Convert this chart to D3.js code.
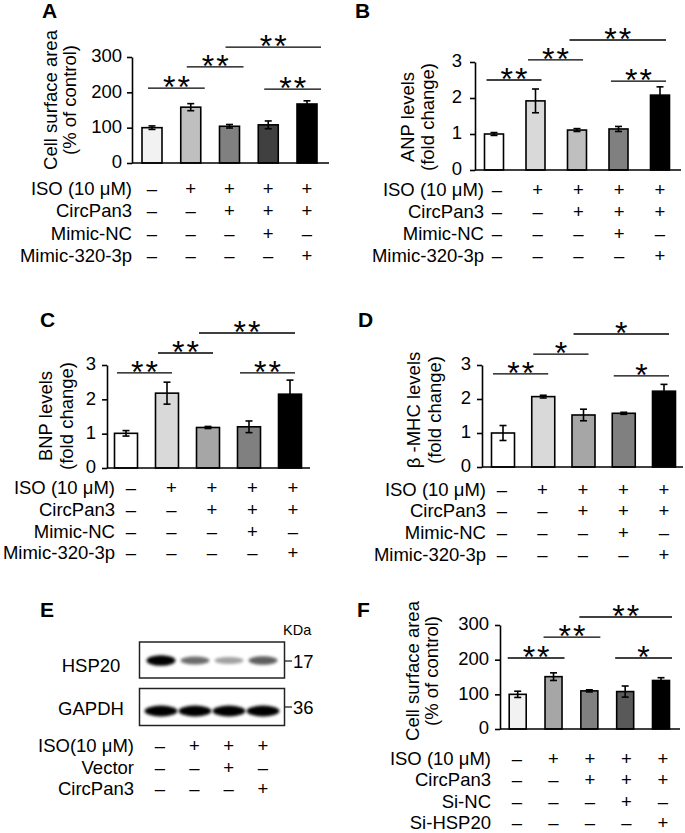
<!DOCTYPE html>
<html><head><meta charset="utf-8">
<script src="https://cdn.jsdelivr.net/npm/d3@7"></script>
<style>
body{margin:0;background:#fff}
svg{display:block}
text{font-family:"Liberation Sans",Arial,sans-serif;fill:#000}
</style>
</head><body>
<svg id="c" width="685" height="833"></svg>
<script>
// ================= DATA =================
const groups = ["G1","G2","G3","G4","G5"];
const aValues = [100,158,104,108,167], aErrors = [5,10,5,11,9];
const bValues = [1.0,1.92,1.11,1.14,2.08], bErrors = [0.04,0.33,0.04,0.07,0.23];
const cValues = [1.01,2.18,1.18,1.2,2.15], cErrors = [0.08,0.32,0.03,0.17,0.41];
const dValues = [1.0,2.07,1.53,1.58,2.23], dErrors = [0.22,0.04,0.17,0.03,0.2];
const fValues = [100,151,110,108,140], fErrors = [9,11,3,16,8];
const ticks300 = [0,100,200,300];
const ticks3 = [0,1,2,3];
const titleA = ["Cell surface area","(% of control)"];
const titleB = ["ANP levels","(fold change)"];
const titleC = ["BNP levels","(fold change)"];
const titleD = ["β -MHC levels","(fold change)"];
const titleF = ["Cell surface area","(% of control)"];
const rowLabelsMimic = ["ISO (10 μM)","CircPan3","Mimic-NC","Mimic-320-3p"];
const rowLabelsF = ["ISO (10 μM)","CircPan3","Si-NC","Si-HSP20"];
const rowSigns5 = [["-","+","+","+","+"],["-","-","+","+","+"],["-","-","-","+","-"],["-","-","-","-","+"]];
const rowLabelsE = ["ISO(10 μM)","Vector","CircPan3"];
const rowSignsE = [["-","+","+","+"],["-","-","+","-"],["-","-","-","+"]];
// significance: [from group, to group, height (data units), label]
const sigA = [[0,1,212,"**"],[1,2,272,"**"],[2,4,328,"**"],[3,4,209,"**"]];
const sigB = [[0,1,2.5,"**"],[1,2,3.06,"**"],[2,4,3.61,"**"],[3,4,2.47,"**"]];
const sigC = [[0,1,2.77,"**"],[1,2,3.35,"**"],[2,4,3.93,"**"],[3,4,2.77,"**"]];
const sigD = [[0,1,2.74,"**"],[1,2,3.32,"*"],[2,4,3.91,"*"],[3,4,2.68,"*"]];
const sigF = [[0,1,205,"**"],[1,2,265,"**"],[2,4,323,"**"],[3,4,205,"*"]];
// western blot
const blotLanes = ["L1","L2","L3","L4"];
const hsp20Intensity = [1.0,0.55,0.35,0.6];
const gapdhIntensity = [1.0,1.0,1.0,1.0];
const blotProteins = ["HSP20","GAPDH"];
const blotMarkers = ["17","36"];

// ================= DRAW =================
const svg = d3.select("#c");
const FS = 18.5;

const defs = svg.append("defs");
defs.append("filter").attr("id","blur").attr("x","-30%").attr("y","-80%").attr("width","160%").attr("height","260%")
  .append("feGaussianBlur").attr("stdDeviation",1.4);

function letter(t,x,y){
  svg.append("text").attr("x",x).attr("y",y).attr("font-size",21).attr("font-weight","bold").text(t);
}

function rows(o){
  const g = svg.append("g");
  const xs = d3.scalePoint().domain(d3.range(o.signs[0].length)).range(o.symRange);
  o.labels.forEach((lab,r)=>{
    const yb = o.base + r*o.step;
    g.append("text").attr("x",o.labelX).attr("y",yb).attr("text-anchor","end").attr("font-size",FS).text(lab);
    g.selectAll(null).data(o.signs[r]).join("text")
      .attr("x",(d,i)=>xs(i)).attr("y",yb).attr("text-anchor","middle").attr("font-size",FS)
      .text(d=> d==="-" ? "–" : "+");
  });
}

function barPanel(o){
  const g = svg.append("g");
  const y = d3.scaleLinear().domain([0,o.yMax]).range([o.y0,o.yTop]);
  const x = d3.scalePoint().domain(d3.range(o.values.length)).range([o.barL,o.barR]);
  const sw = 1.6;
  // axes
  const ax = g.append("g").attr("transform",`translate(${o.axisX},0)`)
    .call(d3.axisLeft(y).tickValues(o.ticks).tickFormat(d3.format("d")).tickSize(5).tickSizeOuter(0).tickPadding(o.tickPad||5));
  ax.select(".domain").attr("stroke","#000").attr("stroke-width",sw);
  ax.selectAll(".tick line").attr("stroke","#000").attr("stroke-width",sw);
  ax.selectAll(".tick text").attr("font-size",FS).attr("fill","#000").attr("dy","0.26em");
  ax.attr("font-family",null).attr("font-size",null);
  // bars
  g.selectAll(".bar").data(o.values).join("rect")
    .attr("x",(d,i)=>x(i)-o.barW/2).attr("width",o.barW)
    .attr("y",d=>y(d)).attr("height",d=>y(0)-y(d))
    .attr("fill",(d,i)=>o.colors[i]).attr("stroke","#000").attr("stroke-width",sw);
  // error bars
  const eb = g.selectAll(".err").data(o.values).join("g");
  eb.append("line").attr("x1",(d,i)=>x(i)).attr("x2",(d,i)=>x(i))
    .attr("y1",(d,i)=>y(d+o.errors[i])).attr("y2",(d,i)=>y(d-o.errors[i]))
    .attr("stroke","#000").attr("stroke-width",sw);
  [1,-1].forEach(s=>{
    eb.append("line").attr("x1",(d,i)=>x(i)-3.5).attr("x2",(d,i)=>x(i)+3.5)
      .attr("y1",(d,i)=>y(d+s*o.errors[i])).attr("y2",(d,i)=>y(d+s*o.errors[i]))
      .attr("stroke","#000").attr("stroke-width",sw);
  });
  // x axis baseline
  g.append("line").attr("x1",o.axisX).attr("x2",o.xEnd).attr("y1",y(0)).attr("y2",y(0))
    .attr("stroke","#000").attr("stroke-width",sw);
  // significance
  o.sig.forEach(([a,b,h,lab])=>{
    const x1 = x(a)+o.padL, x2 = x(b)+o.padR, yy = y(h);
    g.append("line").attr("x1",x1).attr("x2",x2).attr("y1",yy).attr("y2",yy)
      .attr("stroke","#000").attr("stroke-width",1.4);
    g.append("text").attr("x",(x1+x2)/2 + (lab.length>1?1:0)).attr("y",yy+10).attr("text-anchor","middle")
      .attr("font-size",32).attr("letter-spacing",lab.length>1?2:0).text(lab);
  });
  // titles
  o.title.forEach((t,k)=>{
    g.append("text").attr("transform",`translate(${o.titleX[k]},${o.titleY}) rotate(-90)`)
      .attr("text-anchor","middle").attr("font-size",FS).text(t);
  });
}

// Panel A
letter("A",42,18);
barPanel({values:aValues,errors:aErrors,ticks:ticks300,yMax:300,y0:163,yTop:57,axisX:132,xEnd:329,
  barL:152,barR:307,barW:20,colors:["#f2f2f2","#bfbfbf","#808080","#404040","#000000"],
  sig:sigA,padL:-4,padR:14,title:titleA,titleX:[57,76],titleY:100,tickPad:5});
rows({labels:rowLabelsMimic,signs:rowSigns5,symRange:[152,307],labelX:132,base:194.5,step:22.5});

// Panel B
letter("B",355,18);
barPanel({values:bValues,errors:bErrors,ticks:ticks3,yMax:3,y0:170,yTop:62,axisX:475,xEnd:681,
  barL:494,barR:660,barW:19,colors:["#ffffff","#d9d9d9","#bfbfbf","#808080","#000000"],
  sig:sigB,padL:-7.5,padR:6,title:titleB,titleX:[414,434],titleY:117,tickPad:8});
rows({labels:rowLabelsMimic,signs:rowSigns5,symRange:[497,660],labelX:484,base:196,step:22});

// Panel C
letter("C",40,327);
barPanel({values:cValues,errors:cErrors,ticks:ticks3,yMax:3,y0:468,yTop:365,axisX:107,xEnd:310,
  barL:126,barR:290,barW:23,colors:["#ffffff","#d9d9d9","#a6a6a6","#808080","#000000"],
  sig:sigC,padL:-9,padR:5,title:titleC,titleX:[52,73],titleY:416,tickPad:6});
rows({labels:rowLabelsMimic,signs:rowSigns5,symRange:[131,293],labelX:115,base:494,step:21.8});

// Panel D
letter("D",358,327);
barPanel({values:dValues,errors:dErrors,ticks:ticks3,yMax:3,y0:467,yTop:365,axisX:482,xEnd:683,
  barL:503,barR:664,barW:23,colors:["#ffffff","#d9d9d9","#a6a6a6","#808080","#000000"],
  sig:sigD,padL:-10,padR:5,title:titleD,titleX:[420,441],titleY:410,tickPad:6});
rows({labels:rowLabelsMimic,signs:rowSigns5,symRange:[502,664],labelX:486,base:495.5,step:21.8});

// Panel E (western blot)
letter("E",40,617);
(function(){
  const g = svg.append("g");
  const lx = d3.scalePoint().domain(blotLanes).range([161,263]);
  const boxes = [{y:642,h:36,cy:660.5},{y:688.5,h:37,cy:711}];
  const intens = [hsp20Intensity, gapdhIntensity];
  boxes.forEach((b,k)=>{
    g.append("rect").attr("x",139.5).attr("y",b.y).attr("width",145).attr("height",b.h)
      .attr("fill","#fff").attr("stroke","#222").attr("stroke-width",1.5);
    g.selectAll(null).data(intens[k]).join("ellipse")
      .attr("cx",(d,i)=>lx(blotLanes[i])).attr("cy",b.cy)
      .attr("rx",k===0?14.5:16.5).attr("ry",d=>k===0?2.5+2.8*d:5.4)
      .attr("fill","#000").attr("opacity",d=>Math.min(1,d*1.05))
      .attr("filter","url(#blur)");
    g.append("text").attr("x",91).attr("y",b.cy+(k===0?11:4)).attr("text-anchor","middle").attr("font-size",FS).text(blotProteins[k]);
    const my = k===0?661:707;
    g.append("line").attr("x1",284.5).attr("x2",292).attr("y1",my).attr("y2",my).attr("stroke","#222").attr("stroke-width",1.3);
    g.append("text").attr("x",293).attr("y",my+6.5).attr("font-size",FS).text(blotMarkers[k]);
  });
  g.append("text").attr("x",283).attr("y",635).attr("font-size",14.5).text("KDa");
})();
rows({labels:rowLabelsE,signs:rowSignsE,symRange:[160,263],labelX:134,base:752,step:21.5});

// Panel F
letter("F",357,617);
barPanel({values:fValues,errors:fErrors,ticks:ticks300,yMax:300,y0:729,yTop:625,axisX:500,xEnd:680,
  barL:517.7,barR:661,barW:17,colors:["#f2f2f2","#a6a6a6","#808080","#595959","#000000"],
  sig:sigF,padL:-10,padR:11,title:titleF,titleX:[419,438],titleY:671,tickPad:6});
rows({labels:rowLabelsF,signs:rowSigns5,symRange:[517,663],labelX:491,base:765,step:21.4});
</script>
</body></html>
